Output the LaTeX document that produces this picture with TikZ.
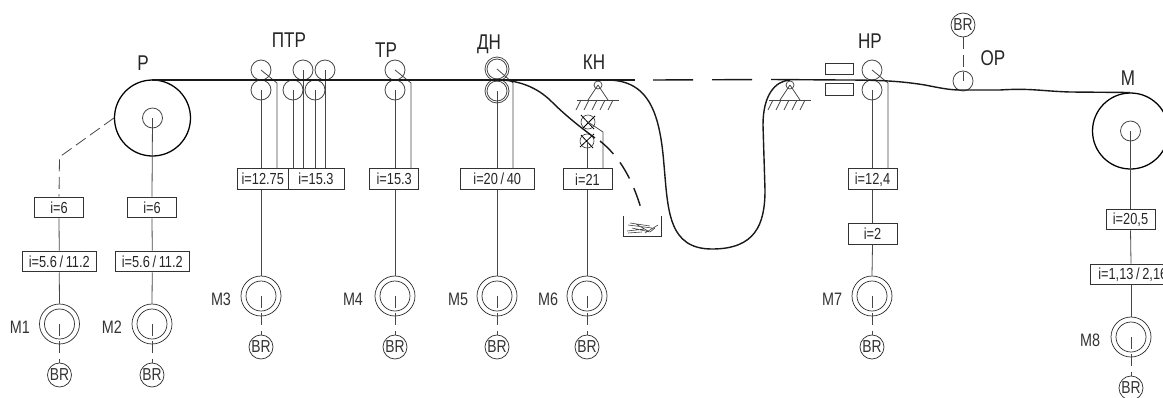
\documentclass[tikz,border=0pt]{standalone}
\usepackage{fontspec}
\setmainfont[FakeStretch=0.8]{Liberation Sans}
\definecolor{ln}{RGB}{70,70,70}
\definecolor{web}{RGB}{25,25,25}
\tikzset{
  thinl/.style={draw=ln,line width=0.6pt},
  webl/.style={draw=web,line width=1.05pt},
  chain/.style={draw=ln,line width=0.6pt,dash pattern=on 9pt off 4pt},
  webdash/.style={draw=web,line width=1.05pt,dash pattern=on 30pt off 14.25pt},
  rollerc/.style={circle,draw=ln,line width=0.6pt,minimum size=15pt,inner sep=0pt},
  dnouter/.style={circle,draw=ln,line width=0.6pt,minimum size=18pt,inner sep=0pt},
  dninner/.style={circle,draw=ln,line width=0.6pt,minimum size=15pt,inner sep=0pt},
  reel/.style={circle,draw=black,line width=0.95pt,minimum size=57pt,inner sep=0pt},
  hub/.style={circle,draw=ln,line width=0.6pt,minimum size=15pt,inner sep=0pt},
  motorout/.style={circle,draw=black!80,line width=0.55pt,minimum size=30pt,inner sep=0pt},
  motorin/.style={circle,draw=black!80,line width=0.55pt,minimum size=22.5pt,inner sep=0pt},
  brake/.style={circle,draw=black!80,line width=0.55pt,minimum size=18pt,inner sep=0pt,font=\fontsize{13pt}{13pt}\selectfont,text=black!80},
  gear/.style={rectangle,draw=black!80,line width=0.65pt,fill=white,inner sep=0pt,minimum height=15.5pt,font=\fontsize{12pt}{12pt}\selectfont,text=black!85},
  heat/.style={rectangle,draw=black!80,line width=0.6pt,inner sep=0pt,minimum width=21pt,minimum height=8.5pt},
  knife/.style={circle,draw=black!75,line width=0.5pt,minimum size=10.5pt,inner sep=0pt},
  pivot/.style={circle,draw=ln,line width=0.55pt,minimum size=6pt,inner sep=0pt},
  station/.style={font=\fontsize{16pt}{16pt}\selectfont,text=black!85,inner sep=0pt},
  mlabel/.style={font=\fontsize{13.5pt}{13.5pt}\selectfont,text=black!80,inner sep=0pt},
}
\newcommand{\drive}[5]{% name, x, y, label, label x
  \node[motorout] (#1) at (#2,#3) {};
  \node[motorin] (#1i) at (#2,#3) {};
  \node[brake] (#1b) at (#2,#3+51) {BR};
  \node[mlabel] (#1l) at (#5,#3+3) {#4};
  \draw[chain] (#1.center) -- (#1b.north);
}
\newcommand{\support}[3]{% name, x, y of pivot
  \node[pivot] (#1) at (#2,#3) {};
  \coordinate (#1a) at (#2-10,#3+15);
  \coordinate (#1b) at (#2+10,#3+15);
  \draw[thinl] (#1.center) -- (#1a) (#1.center) -- (#1b);
  \draw[thinl] (#2-21,#3+15) -- (#2+21,#3+15);
  \foreach \h in {-17,-9,-1,7,15}{\draw[thinl] (#2+\h,#3+15) -- (#2+\h-5,#3+25);}
}
\begin{document}
\begin{tikzpicture}[x=0.75pt,y=-0.75pt]
\useasboundingbox (0,0) rectangle (1163,397);
\clip (0,0) rectangle (1163,397);
% reels
\node[reel] (P) at (152.5,118) {};
\node[hub] (Ph) at (152.5,118) {};
\node[reel] (M) at (1130.5,131) {};
\node[hub] (Mh) at (1130.5,131) {};
% station labels
\node[station] (lP) at (143,63) {Р};
\node[station] (lPTR) at (289,40) {ПТР};
\node[station] (lTR) at (386,50) {ТР};
\node[station] (lDN) at (489,44) {ДН};
\node[station] (lKN) at (594,62) {КН};
\node[station] (lNR) at (870,41) {НР};
\node[station] (lOR) at (993,58) {ОР};
\node[station] (lM) at (1128,78) {М};
% rollers
\node[rollerc] (a1) at (261,70) {};
\node[rollerc] (a2) at (261,90) {};
\node[rollerc] (b2) at (293,90) {};
\node[rollerc] (b1) at (303,70) {};
\node[rollerc] (c2) at (315,90) {};
\node[rollerc] (c1) at (325,70) {};
\node[rollerc] (t1) at (395,70) {};
\node[rollerc] (t2) at (395,90) {};
\node[dnouter] (d1) at (497,69) {};
\node[dninner] (d1i) at (497,69) {};
\node[dnouter] (d2) at (497,91) {};
\node[dninner] (d2i) at (497,91) {};
\node[rollerc] (n1) at (872,70) {};
\node[rollerc] (n2) at (872,90) {};
\node[rollerc] (o) at (963,81) {};
\node[brake] (ob) at (963,25) {BR};
\draw[chain] (ob.south) -- (o.center);
\node[heat] (h1) at (839,69) {};
\node[heat] (h2) at (839,89.5) {};
% gear boxes
\node[gear,minimum width=37.8pt] (g3) at (262.75,179.25) {i=12.75};
\node[gear,minimum width=42pt] (g3b) at (316,179.25) {i=15.3};
\node[gear,minimum width=37pt] (g4) at (394.25,179.25) {i=15.3};
\node[gear,minimum width=55.2pt] (g5) at (497.25,179.25) {i=20\,/\,40};
\node[gear,minimum width=36.8pt] (g6) at (587.5,179.25) {i=21};
\node[gear,minimum width=36.8pt] (g7) at (872.5,179.25) {i=12,4};
\node[gear,minimum width=36.8pt] (g7b) at (872.5,234) {i=2};
\node[gear,minimum width=36.8pt] (g1) at (59,207.5) {i=6};
\node[gear,minimum width=36.8pt] (g2) at (152,207.5) {i=6};
\node[gear,minimum width=55.2pt] (g1b) at (59.25,261.5) {i=5.6\,/\,11.2};
\node[gear,minimum width=55.2pt] (g2b) at (152.25,261.5) {i=5.6\,/\,11.2};
\node[gear,minimum width=36.8pt] (g8) at (1130.5,219.5) {i=20,5};
\node[gear,minimum width=62pt,anchor=west] (g8b) at (1090,274.5) {\hspace{1.5pt}i=1,13\,/\,2,16\hspace{-20pt}};
% drives
\drive{M1}{59.5}{324}{M1}{20}
\drive{M2}{152}{324}{M2}{112}
\drive{M3}{261}{296}{M3}{221}
\drive{M4}{395}{296}{M4}{353}
\drive{M5}{497}{296}{M5}{458}
\drive{M6}{587}{296}{M6}{548}
\drive{M7}{872}{296}{M7}{832}
\drive{M8}{1131}{337}{M8}{1090}
% supports
\support{s1}{598}{85}
\support{s2}{790}{85}
% shear knives
\node[knife] (k1) at (588,122) {};
\node[knife] (k2) at (587,141) {};
\draw[thinl,draw=black] ([shift={(-7,-7)}]k1.center) -- ([shift={(6,7)}]k1.center) ([shift={(7,-6)}]k1.center) -- ([shift={(-6,7)}]k1.center);
\draw[thinl,draw=black] ([shift={(-6,-6)}]k2.center) -- ([shift={(6,7)}]k2.center) ([shift={(7,-7)}]k2.center) -- ([shift={(-7,6)}]k2.center);
% chains to gears and motors
\coordinate (a3) at (277,83);
\coordinate (t3) at (411,83);
\coordinate (d3) at (513,83);
\coordinate (k3) at (603,132);
\coordinate (n3) at (888,83);
\draw[thinl] (a1.center) -- (a3) -- (a3 |- g3.north);
\draw[thinl] (a2.center) -- (a2.center |- g3.north);
\draw[thinl] (b2.center) -- (b2.center |- g3b.north);
\draw[thinl] (b1.center) -- (b1.center |- g3b.north);
\draw[thinl] (c2.center) -- (c2.center |- g3b.north);
\draw[thinl] (c1.center) -- (c1.center |- g3b.north);
\draw[thinl] (M3.north) -- (M3.north |- g3.south);
\draw[thinl] (t1.center) -- (t3) -- (t3 |- g4.north);
\draw[thinl] (t2.center) -- (t2.center |- g4.north);
\draw[thinl] (M4.north) -- (M4.north |- g4.south);
\draw[thinl] (d1.center) -- (d3) -- (d3 |- g5.north);
\draw[thinl] (d2.center) -- (d2.center |- g5.north);
\draw[thinl] (M5.north) -- (M5.north |- g5.south);
\draw[thinl] (k1.center) -- (k3) -- (k3 |- g6.north);
\draw[thinl] (k2.center) -- (k2.center |- g6.north);
\draw[thinl] (M6.north) -- (M6.north |- g6.south);
\draw[thinl] (n1.center) -- (n3) -- (n3 |- g7.north);
\draw[thinl] (n2.center) -- (n2.center |- g7.north);
\draw[thinl] (g7.south) -- (g7b.north);
\draw[thinl] (g7b.south) -- (M7.north);
\draw[thinl] (Ph.center) -- (g2.north);
\draw[thinl] (g2.south) -- (g2b.north);
\draw[thinl] (g2b.south) -- (M2.north);
\coordinate (pk) at (59.5,157);
\draw[chain] (P.west) -- (pk) -- (g1.north);
\draw[thinl] (g1.south) -- (g1b.north);
\draw[thinl] (g1b.south) -- (M1.north);
\draw[thinl] (Mh.center) -- (g8.north);
\draw[thinl] (g8.south) -- (M8.north |- g8b.north);
\draw[thinl] (M8.north |- g8b.south) -- (M8.north);
% scrap bin
\coordinate (bin1) at (623,216);
\coordinate (bin2) at (623,236);
\coordinate (bin3) at (661,236);
\coordinate (bin4) at (661,216);
\draw[draw=black!80,line width=0.75pt] (bin1) -- (bin2) -- (bin3) -- (bin4);
\draw[draw=black!75,line width=0.45pt]
  (628,225) -- (652,228) (630,223) -- (650,226) (627,231) -- (645,229)
  (632,228) -- (650,232) (628,233) -- (642,232) (645,233) -- (658,225)
  (636,224) -- (648,231) (650,232) -- (655,228);
% web
\coordinate (w0) at (152,80);
\coordinate (w1) at (635,80);
\coordinate (w2) at (771,79.5);
\draw[webl] (w0) -- (w1);
\draw[webdash] (653,80) -- (w2);
\draw[webl] (w2) -- (843,80) .. controls (880,80) and (900,81) .. (925,85)
  .. controls (940,88) and (950,90) .. (960,90) -- (1000,90) .. controls (1030,88) and (1040,91) .. (1070,92) -- (1130,92.5);
\draw[webl] (503,80) .. controls (525,82) and (540,90) .. (552,102) .. controls (565,115) and (580,127) .. (595,138);
\draw[webdash,dash pattern=on 14pt off 8pt] (600,141) .. controls (620,157) and (633,180) .. (642,212);
\draw[webl] (607,80) .. controls (650,80) and (660,115) .. (664,165)
  .. controls (668,210) and (668,249) .. (712,249)
  .. controls (755,249) and (765,225) .. (765,190)
  -- (763,125) .. controls (763,95) and (775,81) .. (790,80);
\end{tikzpicture}
\end{document}
